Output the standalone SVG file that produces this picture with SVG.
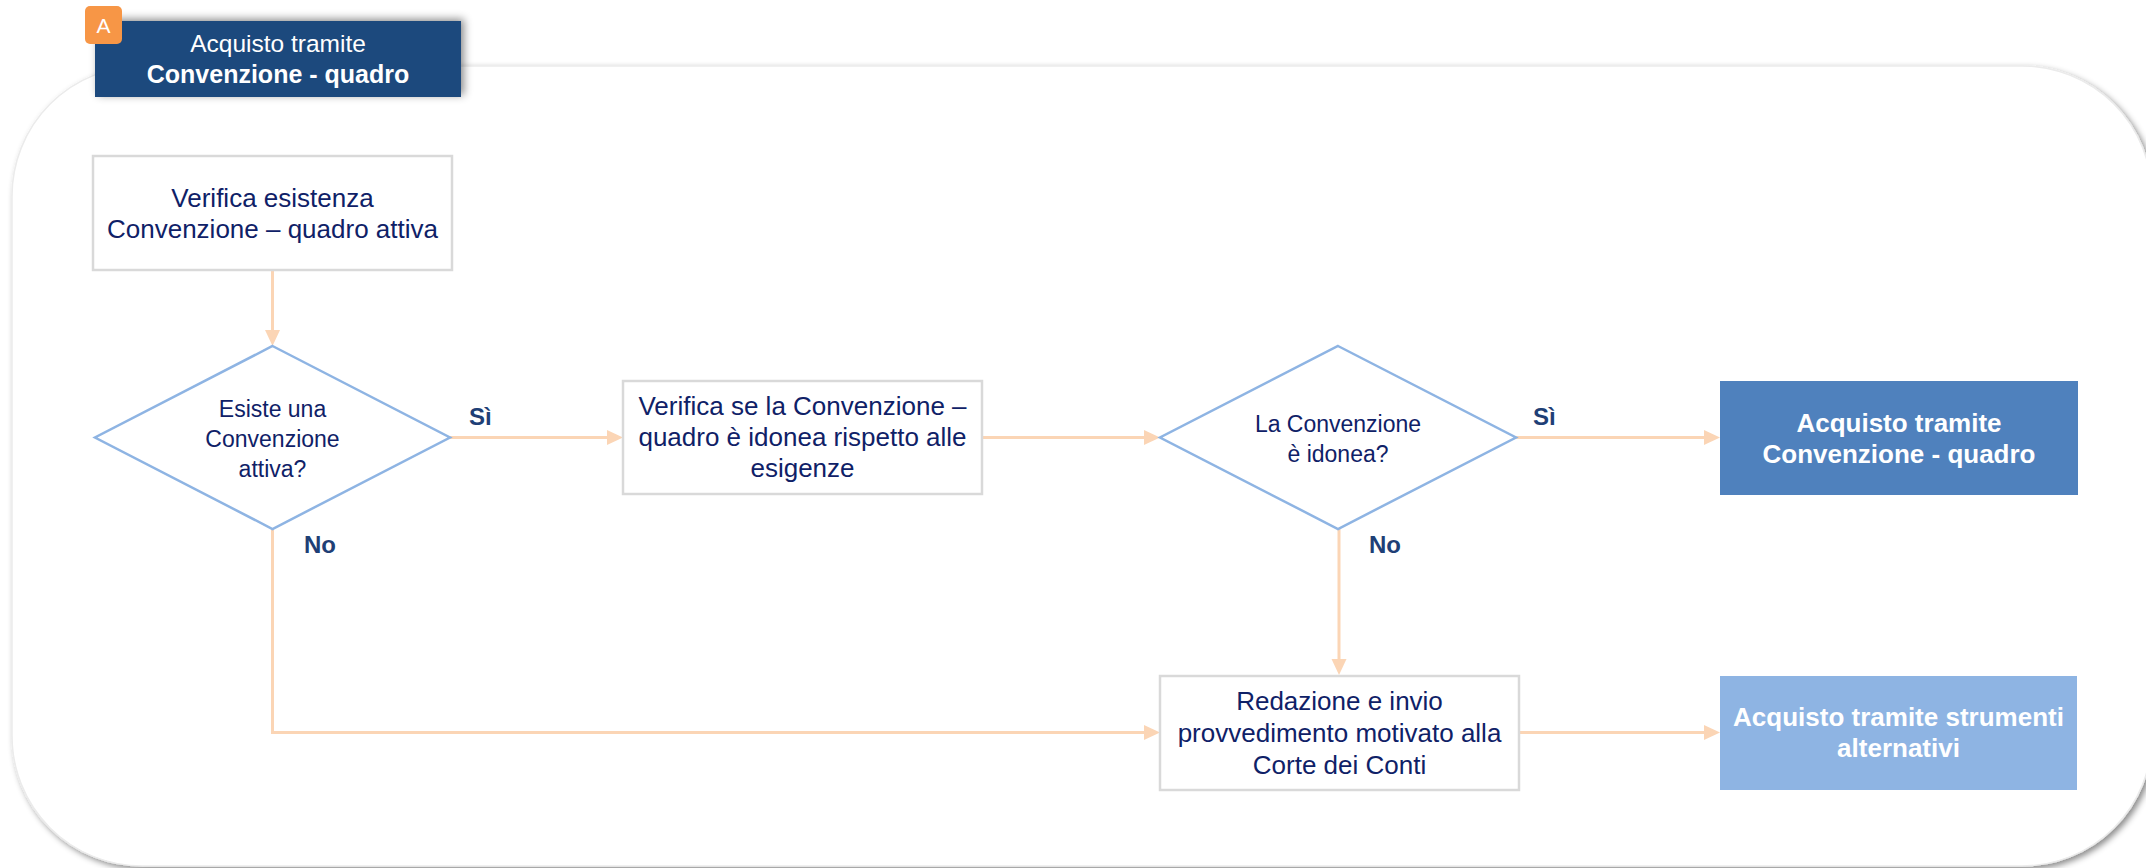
<svg xmlns="http://www.w3.org/2000/svg" width="2146" height="868" viewBox="0 0 2146 868">
<defs>
<style>
.box{fill:#FFFFFF;stroke:#D9D9D9;stroke-width:2.5}
.dia{fill:#FFFFFF;stroke:#8EB4E3;stroke-width:2.5}
.t{font-family:"Liberation Sans",Arial,sans-serif;font-size:26px;fill:#0F2167;text-anchor:middle}
.td{font-family:"Liberation Sans",Arial,sans-serif;font-size:23px;fill:#0F2167;text-anchor:middle}
.tw{font-family:"Liberation Sans",Arial,sans-serif;font-size:26px;font-weight:bold;fill:#FFFFFF;text-anchor:middle}
.lbl{font-family:"Liberation Sans",Arial,sans-serif;font-size:24px;font-weight:bold;fill:#1F3F76}
.con{fill:none;stroke:#FBD5B5;stroke-width:3}
</style>
<marker id="arr" viewBox="0 0 16 16" refX="8" refY="8" markerWidth="16" markerHeight="16" markerUnits="userSpaceOnUse" orient="auto">
<path d="M0,0.5 L16,8 L0,15.5 Z" fill="#FBD5B5"/>
</marker>
<filter id="panelShadow" x="-5%" y="-5%" width="110%" height="110%">
<feDropShadow dx="3" dy="3" stdDeviation="3" flood-color="#000000" flood-opacity="0.45"/>
</filter>
<filter id="hdrShadow" x="-10%" y="-30%" width="120%" height="160%">
<feDropShadow dx="3" dy="-2" stdDeviation="4" flood-color="#000000" flood-opacity="0.45"/>
</filter>
</defs>

<g id="panel">
<rect x="12" y="66" width="2140" height="800" rx="130" ry="130" fill="#FFFFFF" stroke="#EBEBEB" stroke-width="1.5" filter="url(#panelShadow)"/>
</g>

<g id="header">
<rect x="95" y="21" width="366" height="76" fill="#1F497D" filter="url(#hdrShadow)"/>
<text x="278" y="52" font-family="Liberation Sans, Arial, sans-serif" font-size="24.5" fill="#FFFFFF" text-anchor="middle">Acquisto tramite</text>
<text x="278" y="83" font-family="Liberation Sans, Arial, sans-serif" font-size="25" font-weight="bold" fill="#FFFFFF" text-anchor="middle">Convenzione - quadro</text>
</g>
<g id="badge">
<rect x="85" y="6" width="37" height="38" rx="5" ry="5" fill="#F79646"/>
<text x="103.5" y="33" font-family="Liberation Sans, Arial, sans-serif" font-size="21" fill="#FFFFFF" text-anchor="middle">A</text>
</g>

<g id="connectors">
<path class="con" d="M272.5,270 V338" marker-end="url(#arr)"/>
<path class="con" d="M450,437.5 H615" marker-end="url(#arr)"/>
<path class="con" d="M982,437.5 H1152" marker-end="url(#arr)"/>
<path class="con" d="M1516,437.5 H1712" marker-end="url(#arr)"/>
<path class="con" d="M1339,529 V667" marker-end="url(#arr)"/>
<path class="con" d="M272.5,529 V732.5 H1152" marker-end="url(#arr)"/>
<path class="con" d="M1519,732.5 H1712" marker-end="url(#arr)"/>
<text class="lbl" x="469" y="425">Sì</text>
<text class="lbl" x="304" y="553">No</text>
<text class="lbl" x="1533" y="425">Sì</text>
<text class="lbl" x="1369" y="553">No</text>
</g>

<g id="n1">
<rect class="box" x="93" y="156" width="359" height="114"/>
<text class="t" x="272.5" y="207">Verifica esistenza</text>
<text class="t" x="272.5" y="238">Convenzione – quadro attiva</text>
</g>

<g id="d1">
<polygon class="dia" points="272.5,346 450,437.5 272.5,529 95,437.5"/>
<text class="td" x="272.5" y="417">Esiste una</text>
<text class="td" x="272.5" y="447">Convenzione</text>
<text class="td" x="272.5" y="477">attiva?</text>
</g>

<g id="n2">
<rect class="box" x="623" y="381" width="359" height="113"/>
<text class="t" x="802.5" y="415">Verifica se la Convenzione –</text>
<text class="t" x="802.5" y="446">quadro è idonea rispetto alle</text>
<text class="t" x="802.5" y="477">esigenze</text>
</g>

<g id="d2">
<polygon class="dia" points="1338,346 1516,437.5 1338,529 1160,437.5"/>
<text class="td" x="1338" y="432">La Convenzione</text>
<text class="td" x="1338" y="462">è idonea?</text>
</g>

<g id="n3">
<rect x="1720" y="381" width="358" height="114" fill="#4F81BD"/>
<text class="tw" x="1899" y="432">Acquisto tramite</text>
<text class="tw" x="1899" y="463">Convenzione - quadro</text>
</g>

<g id="n4">
<rect class="box" x="1160" y="676" width="359" height="114"/>
<text class="t" x="1339.5" y="710">Redazione e invio</text>
<text class="t" x="1339.5" y="742">provvedimento motivato alla</text>
<text class="t" x="1339.5" y="774">Corte dei Conti</text>
</g>

<g id="n5">
<rect x="1720" y="676" width="357" height="114" fill="#8EB4E3"/>
<text class="tw" x="1898.5" y="726">Acquisto tramite strumenti</text>
<text class="tw" x="1898.5" y="757">alternativi</text>
</g>
</svg>
